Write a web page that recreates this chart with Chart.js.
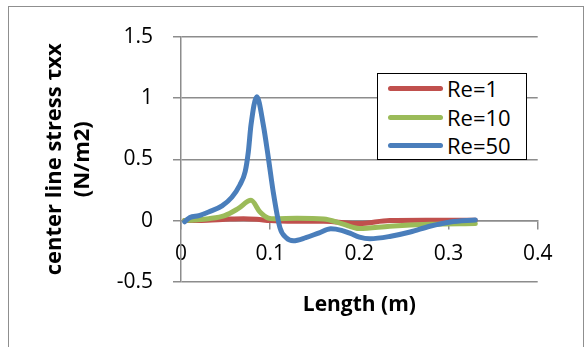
<!DOCTYPE html>
<html>
<head>
<meta charset="utf-8">
<script src="https://cdn.jsdelivr.net/npm/chart.js@4"></script>
<style>
  html, body { margin: 0; padding: 0; background: #fff; overflow: hidden; }
  #wrap { position: relative; width: 586px; height: 347px; }
  #frame { position: absolute; left: 8px; top: 6px; width: 576px; height: 400px;
           border: 1.5px solid #8f8f8f; box-sizing: border-box; pointer-events: none; }
  #legend { position: absolute; left: 377px; top: 73px; width: 150px; height: 87px;
            border: 1.5px solid #000; box-sizing: border-box; background: #fff;
            font-family: "Open Sans", sans-serif; font-size: 22px; color: #000; }
  .swatch { position: absolute; left: 10px; width: 55px; height: 5px; border-radius: 3px; }
  .lbl { position: absolute; left: 69px; height: 28px; line-height: 28px; white-space: nowrap; }
</style>
</head>
<body>
<div id="wrap">
  <canvas id="c" width="586" height="347"></canvas>
  <div id="frame"></div>
  <div id="legend"></div>
</div>
<script>
// Length along the centre line (m) and the stress values for each Reynolds number
const re1X  = [0.004, 0.03, 0.05, 0.07, 0.085, 0.1, 0.12, 0.16, 0.2, 0.234, 0.28, 0.33];
const re1Y  = [0, 0.003, 0.01, 0.015, 0.01, 0, -0.005, -0.005, -0.025, 0, 0.002, 0.003];

const re10X = [0.004, 0.015, 0.031, 0.049, 0.064, 0.0785, 0.0886, 0.098, 0.105, 0.13, 0.16, 0.18, 0.2, 0.234, 0.279, 0.33];
const re10Y = [0, 0.005, 0.015, 0.04, 0.097, 0.165, 0.07, 0.02, 0.015, 0.018, 0.012, -0.025, -0.066, -0.047, -0.031, -0.025];

const re50X = [0.004, 0.01, 0.02, 0.031, 0.046, 0.057, 0.066, 0.072, 0.0755, 0.0785, 0.085, 0.0923, 0.098, 0.1035, 0.111, 0.118, 0.126, 0.14, 0.155, 0.168, 0.18, 0.19, 0.2, 0.212, 0.234, 0.257, 0.279, 0.302, 0.33];
const re50Y = [-0.01, 0.025, 0.04, 0.07, 0.12, 0.19, 0.29, 0.40, 0.56, 0.78, 1.01, 0.78, 0.51, 0.23, -0.06, -0.14, -0.165, -0.14, -0.1, -0.068, -0.08, -0.105, -0.135, -0.148, -0.13, -0.094, -0.047, -0.012, 0.005];

const seriesNames = ["Re=1", "Re=10", "Re=50"];
const xTicks = [0, 0.1, 0.2, 0.3, 0.4];
const xTickLabels = ["0", "0.1", "0.2", "0.3", "0.4"];
const yTicks = [-0.5, 0, 0.5, 1, 1.5];
const yTickLabels = ["-0.5", "0", "0.5", "1", "1.5"];

const pts = (xs, ys) => xs.map((x, i) => ({ x: x, y: ys[i] }));

const gridGrey = "#8c8c8c";
const tickFont = { family: "Open Sans", size: 21 };

const chart = new Chart(document.getElementById("c"), {
  type: "line",
  data: {
    datasets: [
      { label: seriesNames[0], data: pts(re1X, re1Y),  borderColor: "#C0504D", order: 2 },
      { label: seriesNames[1], data: pts(re10X, re10Y), borderColor: "#9BBB59", order: 1 },
      { label: seriesNames[2], data: pts(re50X, re50Y), borderColor: "#4A7EBB", order: 0 }
    ]
  },
  options: {
    responsive: false,
    animation: false,
    events: [],
    layout: { padding: { left: 0, right: 48.3, top: 36.7, bottom: 29 } },
    elements: {
      line: { borderWidth: 5, tension: 0.4, cubicInterpolationMode: "monotone",
              borderCapStyle: "round", borderJoinStyle: "round", fill: false },
      point: { radius: 0, hoverRadius: 0 }
    },
    scales: {
      x: {
        type: "linear",
        position: { y: 0 },
        min: 0, max: 0.4,
        afterBuildTicks: s => { s.ticks = xTicks.map(v => ({ value: v })); },
        ticks: { font: tickFont, color: "#000", padding: 13, maxRotation: 0,
                 callback: (v, i) => xTickLabels[i] },
        grid: { drawOnChartArea: false, drawTicks: true, tickLength: 8, color: gridGrey, lineWidth: 1.5 },
        border: { display: true, color: gridGrey, width: 1.5 }
      },
      y: {
        type: "linear",
        position: "left",
        min: -0.5, max: 1.5,
        afterBuildTicks: s => { s.ticks = yTicks.map(v => ({ value: v })); },
        afterFit: s => { s.width = 181; },
        ticks: { font: tickFont, color: "#000", padding: 20,
                 callback: (v, i) => yTickLabels[i] },
        grid: { color: gridGrey, lineWidth: 1.5, tickLength: 8 },
        border: { display: true, color: gridGrey, width: 1.5 },
        title: {
          display: true,
          text: ["center line stress \u03C4xx", "(N/m2)"],
          color: "#000",
          font: { family: "Open Sans", size: 22, weight: "bold", lineHeight: 1.27 },
          padding: { top: 41, bottom: 0 }
        }
      }
    },
    plugins: {
      legend: { display: false },
      tooltip: { enabled: false },
      title: {
        display: true,
        position: "bottom",
        fullSize: false,
        text: "Length (m)",
        color: "#000",
        font: { family: "Open Sans", size: 21, weight: "bold", lineHeight: 1.2 },
        padding: { top: 11, bottom: 0 }
      }
    }
  }
});

// Legend box built from the chart's own datasets
const legend = document.getElementById("legend");
const rowCentres = [14, 43, 71];
chart.data.datasets.forEach((ds, i) => {
  const sw = document.createElement("div");
  sw.className = "swatch";
  sw.style.background = ds.borderColor;
  sw.style.top = (rowCentres[i] - 2.5) + "px";
  legend.appendChild(sw);
  const t = document.createElement("div");
  t.className = "lbl";
  t.style.top = (rowCentres[i] - 14) + "px";
  t.textContent = ds.label;
  legend.appendChild(t);
});
</script>
</body>
</html>
